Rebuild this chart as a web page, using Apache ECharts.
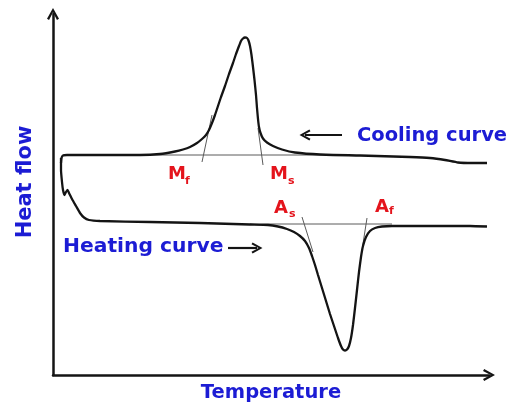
<!DOCTYPE html>
<html>
<head>
<meta charset="utf-8">
<script src="https://cdn.jsdelivr.net/npm/echarts@6/dist/echarts.min.js"></script>
<style>
  html, body { margin: 0; padding: 0; background: #fff; }
  #chart { width: 516px; height: 411px; }
</style>
</head>
<body>
<div id="chart"></div>
<script>
// DSC thermogram of a shape-memory alloy: heat flow against temperature (arbitrary units)

// Cooling run (exothermic martensite peak)
const coolingCurve = [
  [8, 212], [8.5, 217], [10, 219.5], [14, 220], [47, 220], [87, 220], [107, 221],
  [122, 223.5], [130, 225.5], [137, 228], [144, 232], [149, 236], [153, 240],
  [156, 245], [159, 252], [162, 260], [165, 269], [168, 278], [172, 289],
  [176, 301], [180, 312], [183, 321], [186, 329], [188, 334], [190, 336.5],
  [192, 337.5], [194, 337], [195.5, 334.5], [197, 329], [198.5, 320], [200, 308],
  [201.5, 295], [203, 280], [204, 267], [205, 256], [206, 248], [207.5, 242],
  [210, 236.5], [214, 232.5], [220, 229], [229, 225.5], [242, 222.5], [267, 220.5],
  [307, 219.5], [357, 218], [377, 217], [392, 215], [405, 212.5], [419, 212], [434, 212]
];

// Heating run (endothermic austenite trough)
const heatingCurve = [
  [8, 217], [8, 205], [9, 193], [10, 185], [11.5, 180], [13, 183], [14.5, 185],
  [16, 182], [19, 176], [23, 169], [27, 162], [31, 157.5], [36, 155], [47, 154],
  [97, 153], [147, 152], [197, 150.5], [215, 150], [225, 148.5], [234, 146],
  [241, 143], [247, 139], [252, 134], [256, 127], [259, 119], [262, 110],
  [265, 100], [269, 87], [273, 74], [277, 61], [281, 49], [285, 37], [288, 29],
  [290, 25.5], [292, 24.5], [294, 25.5], [296, 29], [298, 37], [300, 50],
  [302, 67], [304, 85], [306, 103], [308, 118], [310, 129], [313, 138],
  [317, 144], [322, 147], [329, 148.5], [339, 149], [377, 149], [417, 149], [434, 148.5]
];

// Construction lines: baselines and onset/finish tangents
const coolingBaseline = [[10, 220], [280, 220]];
const heatingBaseline = [[197, 151], [339, 151]];
const tangentMf = [[149, 213], [159, 260]];
const tangentMs = [[210, 210], [205, 247]];
const tangentAs = [[249, 158], [260, 123]];
const tangentAf = [[314, 157], [309, 125]];

// Transformation temperature labels: main letter + subscript
const phaseLetters = ['M', 'M', 'A', 'A'];
const phaseSubs = ['f', 's', 's', 'f'];
const phaseLetterAt = [[115, 201], [217, 201], [221, 167], [322, 168]];
const phaseSubAt = [[132, 194], [235, 194], [236, 161], [336, 164]];

// Curve captions and their pointer arrows
const curveNames = ['Cooling curve', 'Heating curve'];
const curveNameSizes = [19.5, 20.3];
const curveNameAt = [[304, 239], [10, 128]];
const coolingArrow = [[289, 240], [252, 240]];
const heatingArrow = [[175, 127], [204, 127]];

const axisNames = ['Temperature', 'Heat flow'];

const FONT = 'DejaVu Sans';
const BLUE = '#1c1cd4';
const RED = '#e4141c';
const INK = '#141414';
const THIN = '#5a5a5a';
const chevron = 'path://M0,9 L5,0 L10,9 L8.3,10 L5,3.6 L1.7,10 Z';

function thinLine(data) {
  return {
    type: 'line', data: data, symbol: 'none', silent: true,
    lineStyle: { color: THIN, width: 1 }, z: 1
  };
}

function arrowSeries(seg) {
  return {
    type: 'line', data: [], silent: true,
    markLine: {
      silent: true, animation: false,
      symbol: ['none', chevron], symbolSize: [11, 11],
      label: { show: false },
      lineStyle: { color: INK, width: 2.2, type: 'solid' },
      emphasis: { disabled: true },
      data: [[{ coord: seg[0] }, { coord: seg[1] }]]
    }
  };
}

const labelData = [];
phaseLetters.forEach((t, i) => {
  labelData.push({ value: phaseLetterAt[i], label: { formatter: t, fontSize: 18 } });
  labelData.push({ value: phaseSubAt[i], label: { formatter: phaseSubs[i], fontSize: 11 } });
});

const captionData = curveNames.map((t, i) => ({
  value: curveNameAt[i], label: { formatter: t, fontSize: curveNameSizes[i] }
}));

const chart = echarts.init(document.getElementById('chart'), null, { renderer: 'canvas' });

chart.setOption({
  animation: false,
  backgroundColor: '#ffffff',
  grid: { left: 53, right: 27, top: 14, bottom: 36, containLabel: false, outerBoundsMode: 'none' },
  xAxis: {
    type: 'value', min: 0, max: 436,
    name: axisNames[0], nameLocation: 'middle', nameGap: 8,
    nameTextStyle: { color: BLUE, fontFamily: FONT, fontWeight: 'bold', fontSize: 19.5, verticalAlign: 'top' },
    axisLine: { show: true, onZero: false, symbol: ['none', chevron], symbolSize: [12, 13],
      lineStyle: { color: INK, width: 2.5 } },
    axisTick: { show: false }, axisLabel: { show: false }, splitLine: { show: false }
  },
  yAxis: {
    type: 'value', min: 0, max: 361,
    name: axisNames[1], nameLocation: 'middle', nameGap: 17, nameRotate: 90,
    nameTextStyle: { color: BLUE, fontFamily: FONT, fontWeight: 'bold', fontSize: 21, padding: [0, 0, 0, 25] },
    axisLine: { show: true, onZero: false, symbol: ['none', chevron], symbolSize: [12, 13],
      lineStyle: { color: INK, width: 2.5 } },
    axisTick: { show: false }, axisLabel: { show: false }, splitLine: { show: false }
  },
  series: [
    thinLine(coolingBaseline),
    thinLine(heatingBaseline),
    thinLine(tangentMf),
    thinLine(tangentMs),
    thinLine(tangentAs),
    thinLine(tangentAf),
    {
      name: curveNames[0], type: 'line', data: coolingCurve, symbol: 'none', smooth: 0.15,
      lineStyle: { color: INK, width: 2.3 }, z: 3, silent: true
    },
    {
      name: curveNames[1], type: 'line', data: heatingCurve, symbol: 'none', smooth: 0.15,
      lineStyle: { color: INK, width: 2.3 }, z: 3, silent: true
    },
    arrowSeries(coolingArrow),
    arrowSeries(heatingArrow),
    {
      type: 'scatter', data: labelData, symbolSize: 0, silent: true, z: 5,
      itemStyle: { opacity: 1 },
      label: { show: true, position: 'right', distance: 0, color: RED, opacity: 1,
        fontFamily: FONT, fontWeight: 'bold', verticalAlign: 'middle' }
    },
    {
      type: 'scatter', data: captionData, symbolSize: 0, silent: true, z: 5,
      itemStyle: { opacity: 1 },
      label: { show: true, position: 'right', distance: 0, color: BLUE, opacity: 1,
        fontFamily: FONT, fontWeight: 'bold', verticalAlign: 'middle' }
    }
  ]
});
</script>
</body>
</html>
